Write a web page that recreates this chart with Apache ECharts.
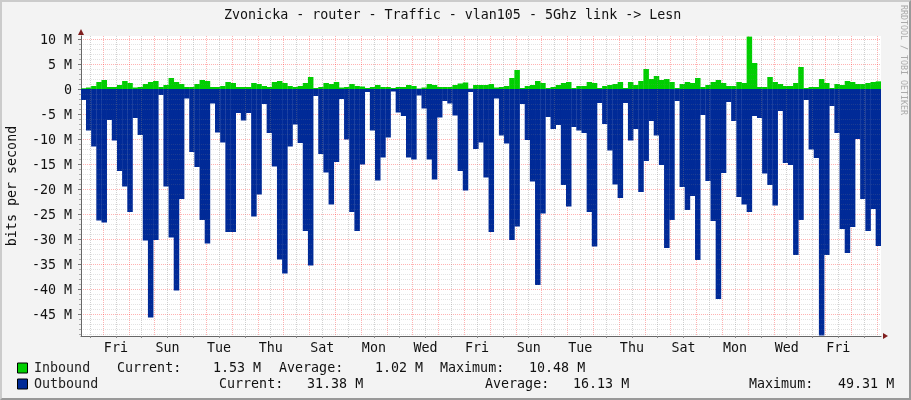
<!DOCTYPE html>
<html>
<head>
<meta charset="utf-8">
<title>Zvonicka</title>
<script src="https://cdn.jsdelivr.net/npm/echarts@6/dist/echarts.min.js"></script>
<style>
html,body{margin:0;padding:0;background:#f3f3f3;}
#frame{position:absolute;left:0;top:0;width:911px;height:400px;box-sizing:border-box;border:2px solid;border-color:#cbcbcb #999 #999 #cbcbcb;}
#chart{position:absolute;left:0;top:0;width:911px;height:400px;}
</style>
</head>
<body>
<div id="frame"></div>
<div id="chart"></div>
<script>
var titleText='Zvonicka - router - Traffic - vlan105 - 5Ghz link -> Lesn';
var yTitle='bits per second';
var sideText='RRDTOOL / TOBI OETIKER';
var dayNames=['Fri','Sun','Tue','Thu','Sat','Mon','Wed','Fri','Sun','Tue','Thu','Sat','Mon','Wed','Fri'];
var dayLabelAt=[1.5,3.5,5.5,7.5,9.5,11.5,13.5,15.5,17.5,19.5,21.5,23.5,25.5,27.5,29.5];
var yMajor=[-45,-40,-35,-30,-25,-20,-15,-10,-5,0,5,10];
var yMinor=[];
var xHalf=[];
var xWhole=[];

// M bit/s, one value per 4.8h step
var inbound=[0.15,0.3,0.6,1.4,1.8,0.4,0.4,0.8,1.6,1.2,0.3,0.4,1,1.4,1.6,0.4,0.8,2.2,1.4,1,0.4,0.4,1,1.8,1.6,0.4,
0.4,0.6,1.4,1.2,0.4,0.4,0.4,1.2,1,0.6,0.4,1.4,1.6,1.2,0.6,0.4,0.6,1.2,2.4,0.2,0.4,1.2,1,1.4,0.3,0.4,1,
0.6,0.5,0.2,0.4,0.8,0.4,0.4,0.2,0.4,0.4,0.8,0.6,0.1,0.3,1,0.8,0.4,0.4,0.4,0.8,1.1,1.3,0.1,0.8,0.8,0.8,1,0.3,
0.4,0.6,2.2,3.8,0.2,0.6,0.8,1.6,1.2,0.2,0.4,0.8,1.2,1.4,0.2,0.6,0.6,1.4,1.2,0.2,0.6,0.8,1,1.4,0.2,1.4,0.8,
1.6,4,2,2.6,1.8,2,1.4,0.2,1,1.4,1.2,2.2,0.4,0.8,1.4,1.8,1.2,0.6,0.6,1.4,1.2,10.48,5.2,0.4,
0.4,2.4,1.4,1,0.6,0.6,1.2,4.4,0.2,0.4,0.4,2,1.2,0.2,1,0.8,1.6,1.4,1,1,1.2,1.4,1.53];
var outbound=[-2.2,-8.3,-11.5,-26.3,-26.7,-6.2,-10.3,-16.4,-19.5,-24.6,-5.8,-9.2,-30.3,-45.7,-30.2,-1.2,-19.5,-29.7,-40.3,-22,
-1.9,-12.6,-15.6,-26.2,-30.9,-2.9,-8.7,-10.7,-28.6,-28.6,-4.8,-6.3,-4.8,-25.5,-21.1,-3,-8.8,-15.5,-34.1,-36.9,
-11.5,-7.1,-10.8,-28.4,-35.3,-1.4,-13,-16.7,-23.1,-14.6,-2,-10.1,-24.6,-28.4,-15.1,-0.6,-8.3,-18.3,-13.7,-9.7,
-0.5,-4.7,-5.4,-13.7,-14.1,-1.3,-3.9,-14.1,-18.1,-5.7,-2.4,-2.9,-5.3,-16.4,-20.3,-0.6,-12,-10.7,-17.7,-28.6,
-1.9,-9.3,-10.9,-30.2,-27.5,-3,-10.2,-18.5,-39.2,-24.9,-5.6,-8,-7.2,-19.2,-23.5,-7.6,-8.3,-8.8,-24.6,-31.5,
-2.8,-7,-12.3,-19.1,-21.8,-2.8,-10.3,-8,-20.6,-14.4,-6.4,-9.3,-15.2,-31.8,-26.2,-2.4,-19.6,-24.2,-21.4,-34.2,
-5.2,-18.4,-26.4,-42,-16.8,-2.6,-6.4,-21.6,-23.1,-24.6,-5.4,-5.8,-16.9,-19.2,-23.3,-4.4,-14.8,-15.2,-33.2,-26.2,
-2.2,-12.1,-13.8,-49.31,-33.2,-3.4,-8.8,-28,-32.8,-27.6,-10,-22,-28.4,-24,-31.38];
var steps=inbound.map(function(v,i){return i;});

var legendRows=[
	{name:'Inbound',color:'#00cf00',cells:[['Current:',117],['1.53 M',213],['Average:',279],['1.02 M',375],['Maximum:',440],['10.48 M',529]]},
	{name:'Outbound',color:'#002a97',cells:[['Current:',219],['31.38 M',307],['Average:',485],['16.13 M',573],['Maximum:',749],['49.31 M',838]]}
];

var mono='"DejaVu Sans Mono"';
var left=81,width=800,top0=36,height=300;
var pxPerDay=25.8;
var dayMin=1-22/pxPerDay,dayMax=dayMin+width/pxPerDay;
var yMin=-49.4,yMax=10.6;

for(var v=-49;v<=10;v++){if(v%5!==0)yMinor.push(v);}
for(var d=0.5;d<dayMax;d+=1){xHalf.push(d);}
for(var e=1;e<dayMax;e+=1){xWhole.push(e);}

function legendGraphics(){
	var out=[];
	legendRows.forEach(function(row,r){
		var y=369+r*16;
		out.push({type:'rect',shape:{x:17.5,y:y-6,width:10,height:10},style:{fill:row.color,stroke:'#000',lineWidth:1}});
		out.push({type:'text',x:34,y:y,style:{text:row.name,font:'13.33px '+mono,fill:'#222',textVerticalAlign:'middle'}});
		row.cells.forEach(function(c){
			out.push({type:'text',x:c[1],y:y,style:{text:c[0],font:'13.33px '+mono,fill:'#111',textVerticalAlign:'middle'}});
		});
	});
	return out;
}

var myChart=echarts.init(document.getElementById('chart'),null,{renderer:'canvas'});
myChart.setOption({
	animation:false,
	backgroundColor:'transparent',
	title:{text:titleText,left:224,top:9,padding:0,textStyle:{fontFamily:mono,fontSize:13.33,fontWeight:'normal',color:'#111'}},
	grid:{left:left,top:top0,width:width,height:height,show:true,backgroundColor:'#fff',borderWidth:0,outerBoundsMode:'none'},
	xAxis:[
		{type:'category',data:steps,show:false,boundaryGap:true},
		{type:'value',min:dayMin,max:dayMax,position:'bottom',z:5,
			axisLine:{show:true,onZero:false,lineStyle:{color:'#666'}},
			axisTick:{show:true,length:2,customValues:xHalf,lineStyle:{color:'#888'}},
			axisLabel:{margin:6,fontFamily:mono,fontSize:13.33,color:'#111',customValues:dayLabelAt,
				formatter:function(v){return dayNames[dayLabelAt.indexOf(v)]||'';}},
			splitLine:{show:true,lineStyle:{color:'rgba(128,128,128,0.36)',type:[1,1],width:1}}},
		{type:'value',min:dayMin,max:dayMax,position:'bottom',z:1,
			axisLine:{show:false},axisTick:{show:true,length:3,customValues:xWhole,lineStyle:{color:'#888'}},axisLabel:{show:false},
			splitLine:{show:true,lineStyle:{color:'rgba(255,0,0,0.3)',type:[1,1],width:1}}}
	],
	yAxis:[
		{type:'value',min:yMin,max:yMax,z:1,
			name:yTitle,nameLocation:'middle',nameGap:62,nameRotate:90,
			nameTextStyle:{fontFamily:mono,fontSize:13.33,color:'#111'},
			axisLine:{show:true,onZero:false,lineStyle:{color:'#666'}},
			axisTick:{show:true,length:3,customValues:yMajor,lineStyle:{color:'#777'}},
			axisLabel:{margin:9,verticalAlign:'top',lineHeight:4,fontFamily:mono,fontSize:13.33,color:'#111',customValues:yMajor,
				formatter:function(v){return v===0?'0':v+' M';}},
			splitLine:{show:true,lineStyle:{color:'rgba(255,0,0,0.3)',type:[1,1]}}},
		{type:'value',min:yMin,max:yMax,position:'left',z:5,
			axisLine:{show:false},
			axisTick:{show:true,length:2,customValues:yMinor,lineStyle:{color:'#aaa'}},
			axisLabel:{show:false},
			splitLine:{show:true,lineStyle:{color:'rgba(128,128,128,0.22)',type:[1,1]}}}
	],
	series:[
		{name:'Inbound',type:'bar',data:inbound,xAxisIndex:0,yAxisIndex:0,barWidth:5.5,barGap:'-100%',itemStyle:{color:'#00cf00'},silent:true},
		{name:'Outbound',type:'bar',data:outbound,xAxisIndex:0,yAxisIndex:0,barWidth:5.5,barGap:'-100%',itemStyle:{color:'#002a97'},silent:true}
	],
	graphic:legendGraphics().concat([
		{type:'polygon',shape:{points:[[81,29],[78,35],[84,35]]},style:{fill:'#7f1d1d'},z:20},
		{type:'polygon',shape:{points:[[888,336],[883,333],[883,339]]},style:{fill:'#7f1d1d'},z:20},
		{type:'text',x:907,y:5,rotation:-Math.PI/2,style:{text:sideText,font:'8.3px '+mono,fill:'#aaa'}}
	])
});
</script>
</body>
</html>
